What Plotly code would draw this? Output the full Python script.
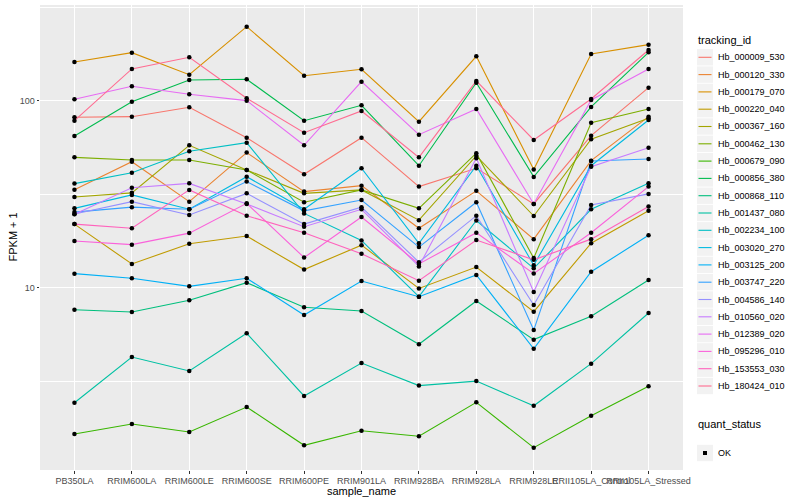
import plotly.graph_objects as go

samples = ["PB350LA", "RRIM600LA", "RRIM600LE", "RRIM600SE", "RRIM600PE", "RRIM901LA",
           "RRIM928BA", "RRIM928LA", "RRIM928LE", "RRII105LA_Control", "RRII105LA_Stressed"]

tracking_ids = ["Hb_000009_530", "Hb_000120_330", "Hb_000179_070", "Hb_000220_040", "Hb_000367_160",
                "Hb_000462_130", "Hb_000679_090", "Hb_000856_380", "Hb_000868_110", "Hb_001437_080",
                "Hb_002234_100", "Hb_003020_270", "Hb_003125_200", "Hb_003747_220", "Hb_004586_140",
                "Hb_010560_020", "Hb_012389_020", "Hb_095296_010", "Hb_153553_030", "Hb_180424_010"]

colors = ["#F8766D", "#EA8331", "#D89000", "#C09B00", "#A3A500", "#7CAE00", "#39B600", "#00BB4E",
          "#00BF7D", "#00C1A3", "#00BFC4", "#00BAE0", "#00B0F6", "#35A2FF", "#9590FF", "#C77CFF",
          "#E76BF3", "#FA62DB", "#FF62BC", "#FF6C91"]

# FPKM + 1 per tracking_id, one value per sample
hb_000009_530 = [81.8, 82.4, 92.5, 63.6, 40.5, 63.6, 34.8, 43.6, 28.1, 65.2, 117.8]
hb_000120_330 = [33.5, 47.3, 28.9, 52.9, 32.7, 35.2, 20.8, 33.0, 18.2, 47.9, 82.4]
hb_000179_070 = [161.8, 181.4, 138.3, 250.0, 136.6, 147.8, 77.5, 173.5, 42.9, 178.6, 200.3]
hb_000220_040 = [21.9, 13.4, 17.2, 18.9, 12.5, 16.9, 9.9, 12.9, 7.44, 17.3, 25.8]
hb_000367_160 = [30.6, 32.2, 57.9, 42.7, 32.0, 33.4, 23.0, 50.9, 24.2, 62.4, 80.8]
hb_000462_130 = [49.9, 48.3, 48.3, 42.7, 28.7, 33.4, 26.6, 52.5, 14.4, 76.5, 90.6]
hb_000679_090 = [1.646, 1.862, 1.687, 2.296, 1.432, 1.714, 1.600, 2.433, 1.390, 2.063, 2.964]
hb_000856_380 = [64.9, 99.1, 129.6, 130.7, 78.4, 94.8, 45.0, 125.3, 39.2, 92.9, 182.3]
hb_000868_110 = [7.62, 7.41, 8.56, 10.64, 7.85, 7.50, 4.98, 8.49, 5.27, 7.03, 11.0]
hb_001437_080 = [2.42, 4.25, 3.58, 5.70, 2.63, 3.95, 2.99, 3.16, 2.33, 3.92, 7.32]
hb_002234_100 = [36.1, 41.3, 53.8, 59.8, 25.0, 17.9, 8.95, 22.9, 12.7, 26.3, 36.2]
hb_003020_270 = [26.6, 31.4, 26.3, 39.3, 26.3, 43.6, 17.3, 45.0, 13.2, 45.0, 79.1]
hb_003125_200 = [11.89, 11.23, 10.17, 11.23, 7.14, 10.86, 8.95, 11.70, 4.71, 12.18, 19.09]
hb_003747_220 = [25.4, 27.0, 26.3, 37.0, 25.8, 29.5, 16.5, 28.7, 5.93, 47.7, 48.9]
hb_004586_140 = [24.8, 28.9, 24.5, 32.0, 21.9, 27.0, 13.7, 24.3, 8.08, 27.7, 31.8]
hb_010560_020 = [24.7, 34.3, 36.2, 28.1, 21.2, 26.3, 13.0, 49.3, 9.48, 44.5, 56.2]
hb_012389_020 = [102.1, 119.9, 108.6, 100.4, 57.9, 126.9, 66.0, 90.6, 28.1, 101.3, 148.4]
hb_095296_010 = [17.8, 17.0, 19.6, 28.3, 14.5, 23.9, 13.4, 19.7, 11.9, 19.7, 34.8]
hb_153553_030 = [21.9, 20.8, 33.4, 24.3, 19.7, 15.2, 10.9, 18.0, 14.1, 18.2, 27.2]
hb_180424_010 = [78.4, 148.4, 171.4, 103.4, 67.6, 88.4, 49.9, 128.0, 61.8, 102.5, 187.6]

series = [hb_000009_530, hb_000120_330, hb_000179_070, hb_000220_040, hb_000367_160,
          hb_000462_130, hb_000679_090, hb_000856_380, hb_000868_110, hb_001437_080,
          hb_002234_100, hb_003020_270, hb_003125_200, hb_003747_220, hb_004586_140,
          hb_010560_020, hb_012389_020, hb_095296_010, hb_153553_030, hb_180424_010]

y_ticks = [10, 100]
y_minor = [3.1623, 31.623, 316.23]

W, H = 800, 500
L, R, T, B = 40, 117, 5, 30
PW, PH = W - L - R, H - T - B
FONT = "Liberation Sans, Arial, sans-serif"


def px(x):
    return (x - L) / PW


def py(y):
    return (H - B - y) / PH


fig = go.Figure()

for name, col, vals in zip(tracking_ids, colors, series):
    fig.add_trace(go.Scatter(x=samples, y=vals, mode="lines", name=name,
                             line=dict(color=col, width=1.1), showlegend=False))

all_x = [s for _ in series for s in samples]
all_y = [v for vals in series for v in vals]
fig.add_trace(go.Scatter(x=all_x, y=all_y, mode="markers", name="OK",
                         marker=dict(color="black", size=4.5, symbol="circle"),
                         showlegend=False))

shapes = []
annotations = []

# manual ggplot-style legend
annotations.append(dict(x=px(696), y=py(40), xref="paper", yref="paper", text="tracking_id",
                        showarrow=False, xanchor="left", yanchor="middle",
                        font=dict(family=FONT, size=11, color="black")))
for i, (name, col) in enumerate(zip(tracking_ids, colors)):
    cy = 57.3 + 17.3 * i
    shapes.append(dict(type="rect", xref="paper", yref="paper", x0=px(697), x1=px(713),
                       y0=py(cy - 8.2), y1=py(cy + 8.2), fillcolor="#F2F2F2", line=dict(width=0),
                       layer="above"))
    shapes.append(dict(type="line", xref="paper", yref="paper", x0=px(698.5), x1=px(711.5),
                       y0=py(cy), y1=py(cy), line=dict(color=col, width=1.1), layer="above"))
    annotations.append(dict(x=px(716), y=py(cy), xref="paper", yref="paper", text=name,
                            showarrow=False, xanchor="left", yanchor="middle",
                            font=dict(family=FONT, size=9, color="black")))

annotations.append(dict(x=px(696), y=py(424), xref="paper", yref="paper", text="quant_status",
                        showarrow=False, xanchor="left", yanchor="middle",
                        font=dict(family=FONT, size=11, color="black")))
shapes.append(dict(type="rect", xref="paper", yref="paper", x0=px(697), x1=px(713),
                   y0=py(453 - 8.2), y1=py(453 + 8.2), fillcolor="#F2F2F2", line=dict(width=0),
                   layer="above"))
shapes.append(dict(type="rect", xref="paper", yref="paper", x0=px(703), x1=px(707),
                   y0=py(451), y1=py(455), fillcolor="black", line=dict(width=0), layer="above"))
annotations.append(dict(x=px(716), y=py(453), xref="paper", yref="paper", text="OK",
                        showarrow=False, xanchor="left", yanchor="middle",
                        font=dict(family=FONT, size=9, color="black")))

# axis titles
annotations.append(dict(x=0.5, y=py(490.5), xref="paper", yref="paper", text="sample_name",
                        showarrow=False, xanchor="center", yanchor="middle",
                        font=dict(family=FONT, size=11, color="black")))
annotations.append(dict(x=px(12), y=0.5, xref="paper", yref="paper", text="FPKM + 1",
                        showarrow=False, xanchor="center", yanchor="middle", textangle=-90,
                        font=dict(family=FONT, size=11, color="black")))

fig.update_layout(
    width=W, height=H,
    margin=dict(l=L, r=R, t=T, b=B, pad=0),
    paper_bgcolor="white", plot_bgcolor="#EBEBEB",
    font=dict(family=FONT, size=9, color="#4D4D4D"),
    shapes=shapes, annotations=annotations,
    xaxis=dict(type="category", categoryorder="array", categoryarray=samples,
               range=[-0.6, len(samples) - 0.4], showgrid=True, gridcolor="white", gridwidth=1.1,
               zeroline=False, showline=False, ticks="outside", ticklen=2.5, tickcolor="#333333",
               tickwidth=1, tickangle=0, tickfont=dict(family=FONT, size=9, color="#4D4D4D"),
               automargin=False),
    yaxis=dict(type="log", range=[0.0236, 2.514], tickvals=y_ticks,
               ticktext=[str(v) for v in y_ticks], showgrid=True, gridcolor="white", gridwidth=1.1,
               zeroline=False, showline=False, ticks="outside", ticklen=2.5, tickcolor="#333333",
               tickwidth=1, tickfont=dict(family=FONT, size=9, color="#4D4D4D"),
               minor=dict(tickvals=y_minor, showgrid=True, gridcolor="white", gridwidth=0.5,
                          ticks=""),
               automargin=False),
    showlegend=False,
)

fig.write_html("out.html", config={"displayModeBar": False},
               post_script="document.body.style.margin='0px';")
